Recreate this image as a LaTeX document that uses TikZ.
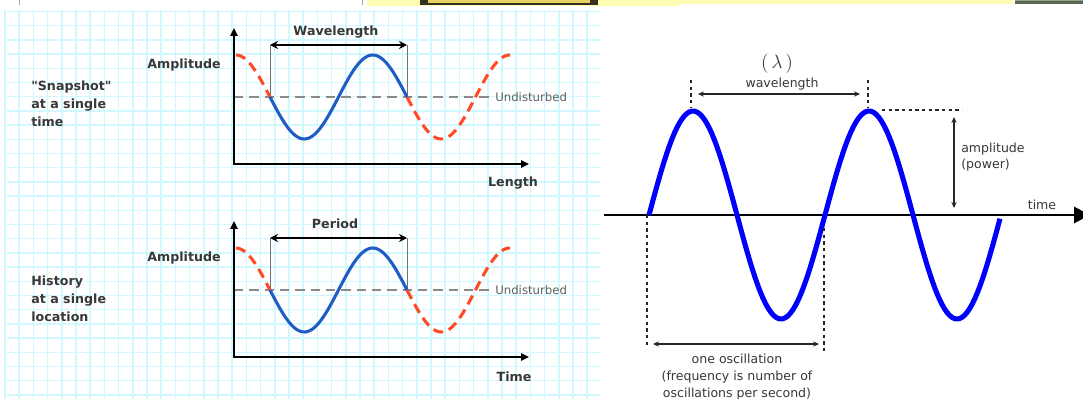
\documentclass[tikz,border=0pt]{standalone}
\usepackage{fontspec}
\usetikzlibrary{arrows.meta,positioning}
\newfontfamily\handfont{DejaVu Sans}
\newfontfamily\pixfont{DejaVu Sans}
\definecolor{gridcyan}{HTML}{CFF9FF}
\definecolor{wavebl}{HTML}{1F5CC4}
\definecolor{waverd}{HTML}{FF4A26}
\definecolor{restgr}{HTML}{8A8A8A}
\definecolor{inkdk}{HTML}{383838}
\definecolor{stripyl}{HTML}{FFFCB4}
\definecolor{knobyl}{HTML}{E6D164}
\definecolor{knobdk}{HTML}{34321C}
\definecolor{stripgn}{HTML}{56684E}

\begin{document}
\begin{tikzpicture}[x=0.75pt,y=-0.75pt, every node/.style={inner sep=0pt},
  lbl/.style={font=\handfont\bfseries\fontsize{9.5}{13.5}\selectfont,text=inkdk},
  smlbl/.style={font=\handfont\fontsize{8.8}{10}\selectfont,text=inkdk!80},
  rtxt/.style={font=\pixfont\fontsize{9.4}{12.5}\selectfont,text=inkdk},
  axis/.style={line width=2.2pt,line join=miter,{Triangle[length=6pt,width=5.5pt]}-{Triangle[length=6pt,width=5.5pt]}},
  span/.style={line width=1.6pt,{Stealth[length=6pt,width=6pt]}-{Stealth[length=6pt,width=6pt]}},
  tick/.style={draw=black!55,line width=0.6pt},
  rest/.style={restgr,line width=1.6pt,dash pattern=on 7pt off 4.5pt},
  solidwave/.style={wavebl,line width=2.3pt},
  ghostwave/.style={waverd,line width=2.3pt,dash pattern=on 7.5pt off 4.5pt},
  bigwave/.style={blue,line width=3.8pt,line join=round},
  guide/.style={black!85,line width=0.8pt,dash pattern=on 2.5pt off 2.5pt},
  thinarr/.style={black!85,line width=0.8pt,{Stealth[length=4.5pt,width=4pt]}-{Stealth[length=4.5pt,width=4pt]}}]
\useasboundingbox (0,0) rectangle (1083,399);
\fill[white] (0,0) rectangle (1083,399);
% screen strip along the top
\draw[black!35,line width=0.75pt] (19,0) -- (19,5) (362,0) -- (362,5);
\fill[stripyl] (367,0) rectangle (679,6.5);
\fill[stripyl] (679,0) rectangle (1013,4);
\fill[knobdk] (420,0) rectangle (598,5);
\fill[knobyl] (428,0) rectangle (590,3);
\fill[stripgn] (1015,0) rectangle (1083,4);
\fill[stripgn!60] (1015,0) rectangle (1083,1.5);
% graph paper
\foreach \gx in {0,...,41} \draw[gridcyan,line width=1.1pt] ({5+14.2*\gx},10) -- ({5+14.2*\gx},399);
\foreach \gy in {0,...,27} \draw[gridcyan,line width=1.1pt] (7,{11.5+14.2*\gy}) -- (600,{11.5+14.2*\gy});

% snapshot chart
\coordinate (ytop1) at (234,28); \coordinate (orig1) at (234,164);
\coordinate (xend1) at (529,164);
\coordinate (wlA) at (270,45); \coordinate (wlB) at (407,45);
\coordinate (rest1a) at (234,97); \coordinate (rest1b) at (489,97);
\draw[rest] (rest1a) -- (rest1b);
\draw[tick] (wlA) -- (270,97) (wlB) -- (407,97);
\draw[ghostwave] plot[domain=236:270,samples=20] (\x,{97+42*sin((\x-270)/137*360)});
\draw[ghostwave] plot[domain=407:510,samples=50] (\x,{97+42*sin((\x-270)/137*360)});
\draw[solidwave] plot[domain=270:407,samples=60] (\x,{97+42*sin((\x-270)/137*360)});
\draw[axis] (ytop1) -- (orig1) -- (xend1);
\draw[span] (wlA) -- (wlB);
\node[lbl] (wltxt) at (336,32) {Wavelength};
\node[lbl] (amp1) at (184,65) {Amplitude};
\node[lbl,align=left,anchor=north west] (snap) at (31,81) {"Snapshot"\\at a single\\time};
\node[smlbl,anchor=west] (und1) at (495,97) {Undisturbed};
\node[lbl] (len) at (513,183) {Length};

% history chart
\coordinate (ytop2) at (234,221); \coordinate (orig2) at (234,357);
\coordinate (xend2) at (529,357);
\coordinate (prA) at (270,238); \coordinate (prB) at (407,238);
\coordinate (rest2a) at (234,290); \coordinate (rest2b) at (489,290);
\draw[rest] (rest2a) -- (rest2b);
\draw[tick] (prA) -- (270,290) (prB) -- (407,290);
\draw[ghostwave] plot[domain=236:270,samples=20] (\x,{290+42*sin((\x-270)/137*360)});
\draw[ghostwave] plot[domain=407:510,samples=50] (\x,{290+42*sin((\x-270)/137*360)});
\draw[solidwave] plot[domain=270:407,samples=60] (\x,{290+42*sin((\x-270)/137*360)});
\draw[axis] (ytop2) -- (orig2) -- (xend2);
\draw[span] (prA) -- (prB);
\node[lbl] (prtxt) at (335,224) {Period};
\node[lbl] (amp2) at (184,258) {Amplitude};
\node[lbl,align=left,anchor=north west] (hist) at (31,276) {History\\at a single\\location};
\node[smlbl,anchor=west] (und2) at (495,290) {Undisturbed};
\node[lbl] (tm) at (514,377) {Time};

% sine wave on the right
\coordinate (t0) at (604,215); \coordinate (t1) at (1090,215);
\draw[line width=2.2pt,-{Triangle[length=12pt,width=12pt]}] (t0) -- (t1);
\draw[bigwave] plot[domain=649:1000,samples=140] (\x,{215-104*sin((\x-649)/176*360)});
\draw[guide] (691,80) -- (691,107) (868,80) -- (868,107);
\draw[guide] (882,110) -- (962,110);
\draw[guide] (647,215) -- (647,348) (824,228) -- (824,352);
\coordinate (lamA) at (698,94); \coordinate (lamB) at (860,94);
\coordinate (ampT) at (954,117); \coordinate (ampB) at (954,208);
\coordinate (oscA) at (653,344); \coordinate (oscB) at (819,344);
\draw[thinarr] (lamA) -- (lamB);
\draw[thinarr] (ampT) -- (ampB);
\draw[thinarr] (oscA) -- (oscB);
\node[font=\fontsize{14}{15}\selectfont,text=inkdk] (lam) at (777,64) {$(\,\lambda\,)$};
\node[rtxt] (wltx) at (782,84) {wavelength};
\node[rtxt,align=left,anchor=west] (amptx) at (961,157) {amplitude\\(power)};
\node[rtxt] (timetx) at (1042,205) {time};
\node[rtxt,align=center] (osctx) at (737,377) {one oscillation\\(frequency is number of\\oscillations per second)};
\end{tikzpicture}
\end{document}
